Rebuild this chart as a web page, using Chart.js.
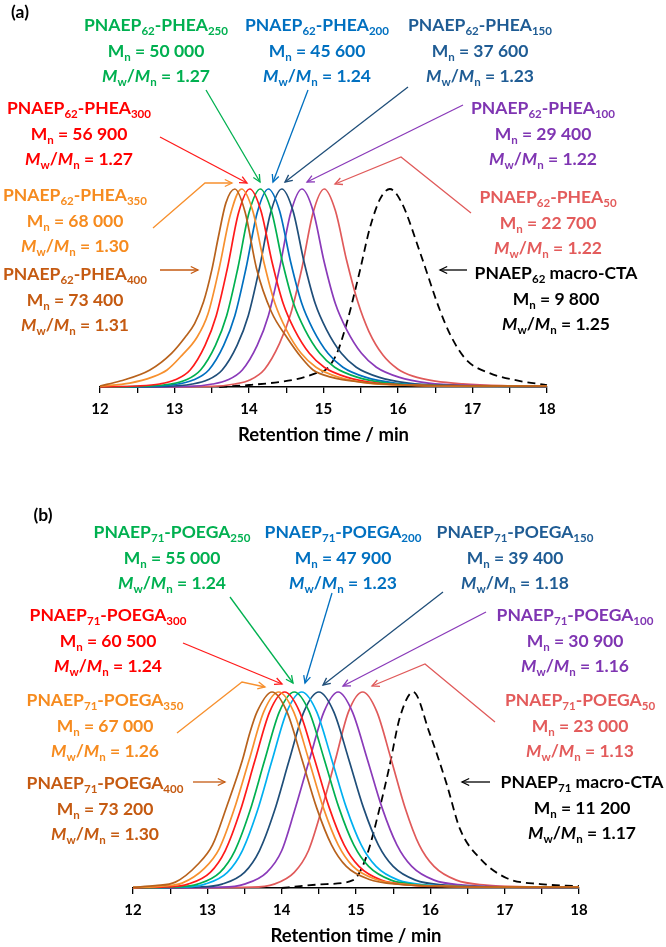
<!DOCTYPE html>
<html lang="en">
<head>
    <meta charset="UTF-8">
    <title>GPC traces</title>
    <script src="https://cdn.jsdelivr.net/npm/chart.js@4.4.0/dist/chart.umd.min.js"></script>
    <style>
        body {
            margin: 0;
            background: #fff;
        }
        #wrap {
            position: relative;
            width: 666px;
            height: 947px;
            overflow: hidden;
            font-family: Lato, 'Open Sans', sans-serif;
            font-weight: bold;
        }
        canvas {
            position: absolute;
            left: 0;
        }
        .lbl {
            position: absolute;
            transform: translateX(-50%);
            white-space: nowrap;
            text-align: center;
            font-size: 17.5px;
            line-height: 23.5px;
        }
        .lbl .s {
            font-size: 0.66em;
            position: relative;
            top: 0.35em;
        }
    </style>
</head>
<body>
<div id="wrap">
    <canvas id="chartA" width="666" height="470" style="top:0"></canvas>
    <canvas id="chartB" width="666" height="477" style="top:470px"></canvas>
</div>

<script>
    // ---- panel (a): PNAEP62-PHEA, [retention time, normalised RI] ----
    const a400 = [[12,0.005],[12.27,0.03],[12.67,0.086],[12.96,0.17],[13.14,0.25],[13.27,0.32],[13.39,0.43],[13.5,0.59],[13.59,0.76],[13.69,0.93],[13.81,1],[13.95,0.88],[14.1,0.6],[14.3,0.38],[14.51,0.25],[14.7,0.15],[14.86,0.086],[15.1,0.05],[15.5,0.025],[16,0.012],[17,0.006],[18,0.004]];
    const a350 = [[12,0.003],[12.4,0.02],[12.7,0.05],[12.9,0.086],[13.1,0.16],[13.3,0.25],[13.45,0.37],[13.6,0.6],[13.75,0.87],[13.9,1],[14.05,0.89],[14.2,0.63],[14.35,0.42],[14.5,0.29],[14.7,0.17],[14.9,0.1],[15.2,0.05],[15.6,0.02],[16.2,0.008],[17,0.005],[18,0.004]];
    const a300 = [[12,0.001],[12.5,0.005],[12.8,0.015],[13.0,0.035],[13.21,0.086],[13.41,0.21],[13.56,0.36],[13.71,0.6],[13.86,0.88],[14.01,1],[14.16,0.89],[14.31,0.63],[14.46,0.42],[14.61,0.29],[14.81,0.17],[15.01,0.1],[15.31,0.05],[15.71,0.02],[16.3,0.008],[17,0.005],[18,0.003]];
    const a250 = [[12,0],[12.6,0.004],[12.95,0.015],[13.15,0.035],[13.35,0.086],[13.55,0.21],[13.7,0.36],[13.85,0.6],[14.0,0.88],[14.15,1],[14.3,0.89],[14.45,0.63],[14.6,0.42],[14.75,0.29],[14.95,0.17],[15.15,0.1],[15.45,0.05],[15.85,0.02],[16.4,0.008],[17,0.005],[18,0.003]];
    const a200 = [[12,0],[12.7,0.003],[13.05,0.015],[13.25,0.035],[13.46,0.086],[13.66,0.21],[13.81,0.36],[13.96,0.6],[14.11,0.88],[14.26,1],[14.41,0.89],[14.56,0.63],[14.71,0.42],[14.86,0.29],[15.06,0.17],[15.26,0.1],[15.56,0.05],[15.96,0.02],[16.5,0.008],[17.2,0.004],[18,0.003]];
    const a150 = [[12,0],[12.9,0.003],[13.24,0.015],[13.44,0.035],[13.64,0.086],[13.84,0.21],[13.99,0.36],[14.14,0.6],[14.29,0.88],[14.44,1],[14.59,0.89],[14.74,0.63],[14.89,0.42],[15.04,0.29],[15.24,0.17],[15.44,0.1],[15.74,0.05],[16.14,0.02],[16.7,0.008],[17.3,0.004],[18,0.003]];
    const a100 = [[12,0],[13.2,0.003],[13.51,0.015],[13.71,0.035],[13.91,0.086],[14.11,0.21],[14.26,0.36],[14.41,0.6],[14.56,0.88],[14.71,1],[14.86,0.89],[15.01,0.63],[15.16,0.42],[15.31,0.29],[15.51,0.17],[15.71,0.1],[16.01,0.05],[16.41,0.02],[17,0.008],[18,0.003]];
    const a50  = [[12,0],[13.5,0.003],[13.81,0.015],[14.01,0.035],[14.21,0.09],[14.41,0.22],[14.56,0.37],[14.71,0.6],[14.86,0.88],[15.01,1],[15.16,0.89],[15.31,0.64],[15.46,0.43],[15.61,0.28],[15.8,0.16],[16.0,0.09],[16.2,0.055],[16.5,0.03],[16.87,0.016],[17.4,0.007],[18,0.004]];
    const aCTA = [[13.6,0],[14.0,0.01],[14.4,0.025],[14.7,0.045],[14.9,0.07],[15.04,0.09],[15.18,0.17],[15.31,0.32],[15.49,0.59],[15.62,0.8],[15.76,0.95],[15.89,1],[16.05,0.93],[16.3,0.675],[16.56,0.39],[16.72,0.25],[16.92,0.136],[17.23,0.07],[17.64,0.03],[18,0.01]];

    // ---- panel (b): PNAEP71-POEGA ----
    const b400 = [[12,0.004],[12.3,0.012],[12.57,0.03],[12.87,0.12],[13.07,0.22],[13.26,0.415],[13.47,0.65],[13.57,0.79],[13.67,0.9],[13.87,1],[14.07,0.9],[14.27,0.66],[14.47,0.41],[14.67,0.22],[14.87,0.11],[15.17,0.045],[15.6,0.018],[16.2,0.008],[17,0.005],[18,0.004]];
    const b350 = [[12,0.002],[12.4,0.01],[12.66,0.025],[12.96,0.1],[13.16,0.2],[13.36,0.4],[13.56,0.65],[13.76,0.9],[13.96,1],[14.16,0.9],[14.36,0.66],[14.56,0.41],[14.76,0.22],[14.96,0.11],[15.26,0.045],[15.7,0.017],[16.3,0.008],[17,0.005],[18,0.004]];
    const b300 = [[12,0.001],[12.44,0.005],[12.74,0.02],[13.04,0.08],[13.24,0.19],[13.44,0.39],[13.64,0.65],[13.84,0.9],[14.04,1],[14.24,0.9],[14.44,0.66],[14.64,0.41],[14.84,0.22],[15.04,0.11],[15.34,0.04],[15.74,0.015],[16.3,0.007],[17,0.004],[18,0.003]];
    const b250 = [[12,0],[12.57,0.005],[12.87,0.02],[13.17,0.08],[13.37,0.19],[13.57,0.39],[13.77,0.65],[13.97,0.9],[14.17,1],[14.37,0.9],[14.57,0.66],[14.77,0.41],[14.97,0.22],[15.17,0.11],[15.47,0.04],[15.87,0.015],[16.5,0.006],[17.2,0.004],[18,0.003]];
    const b200 = [[12,0],[12.67,0.005],[12.97,0.02],[13.27,0.08],[13.47,0.19],[13.67,0.39],[13.87,0.65],[14.07,0.9],[14.27,1],[14.47,0.9],[14.67,0.66],[14.87,0.41],[15.07,0.22],[15.27,0.11],[15.57,0.04],[15.97,0.015],[16.6,0.006],[17.3,0.004],[18,0.003]];
    const b150 = [[12,0],[12.9,0.005],[13.2,0.02],[13.5,0.08],[13.7,0.19],[13.9,0.39],[14.1,0.65],[14.3,0.9],[14.5,1],[14.7,0.9],[14.9,0.66],[15.1,0.41],[15.3,0.22],[15.5,0.11],[15.8,0.04],[16.2,0.015],[16.8,0.006],[17.5,0.004],[18,0.003]];
    const b100 = [[12,0],[13.2,0.004],[13.5,0.02],[13.8,0.08],[14.0,0.19],[14.17,0.39],[14.37,0.65],[14.57,0.9],[14.76,1],[14.95,0.9],[15.15,0.66],[15.35,0.41],[15.55,0.22],[15.75,0.11],[16.05,0.04],[16.45,0.015],[17,0.006],[18,0.003]];
    const b50  = [[12,0],[13.6,0.004],[13.9,0.02],[14.17,0.08],[14.36,0.19],[14.53,0.39],[14.72,0.65],[14.9,0.9],[15.09,1],[15.28,0.9],[15.47,0.66],[15.66,0.41],[15.85,0.22],[16.05,0.11],[16.35,0.04],[16.75,0.015],[17.3,0.006],[18,0.003]];
    const bCTA = [[14.0,0],[14.25,0.01],[14.6,0.02],[14.96,0.04],[15.14,0.16],[15.32,0.41],[15.45,0.62],[15.59,0.87],[15.77,1],[15.99,0.79],[16.22,0.53],[16.4,0.3],[16.67,0.15],[17.03,0.05],[17.48,0.02],[18,0.01]];

    // label values
    const dpLabels = ['400', '350', '300', '250', '200', '150', '100', '50'];
    const mnA  = ['73 400', '68 000', '56 900', '50 000', '45 600', '37 600', '29 400', '22 700'];
    const pdiA = ['1.31', '1.30', '1.27', '1.27', '1.24', '1.23', '1.22', '1.22'];
    const mnB  = ['73 200', '67 000', '60 500', '55 000', '47 900', '39 400', '30 900', '23 000'];
    const pdiB = ['1.30', '1.26', '1.24', '1.24', '1.23', '1.18', '1.16', '1.13'];
    const ctaA = ['62', '9 800', '1.25'];
    const ctaB = ['71', '11 200', '1.17'];

    const textColors = ['#C55A11', '#F68B1F', '#FF0000', '#00B050', '#0070C0', '#1F5C94', '#7F35B2', '#E35B5B'];
    const curveColorsA = ['#B8621C', '#F7902E', '#FF1A1A', '#00B050', '#0070C0', '#1F4E79', '#8A3AB9', '#E05A5A'];
    const curveColorsB = ['#B8621C', '#F7902E', '#FF1A1A', '#00B050', '#00B0F0', '#1F4E79', '#8A3AB9', '#E05A5A'];

    const sub = s => '<span class="s">' + s + '</span>';

    // arrows are drawn in page pixels, head at the last point
    const arrowPlugin = {
        id: 'arrows',
        afterDraw(chart, args, opts) {
            const ctx = chart.ctx;
            ctx.save();
            ctx.lineWidth = 1.3;
            opts.list.forEach(a => {
                const pts = a.pts.map(p => [p[0], p[1] - opts.top]);
                ctx.strokeStyle = a.color;
                ctx.beginPath();
                ctx.moveTo(pts[0][0], pts[0][1]);
                pts.slice(1).forEach(p => ctx.lineTo(p[0], p[1]));
                ctx.stroke();
                const [x1, y1] = pts[pts.length - 2];
                const [x2, y2] = pts[pts.length - 1];
                const ang = Math.atan2(y2 - y1, x2 - x1);
                const L = 8;
                ctx.beginPath();
                ctx.moveTo(x2 - L * Math.cos(ang - 0.45), y2 - L * Math.sin(ang - 0.45));
                ctx.lineTo(x2, y2);
                ctx.lineTo(x2 - L * Math.cos(ang + 0.45), y2 - L * Math.sin(ang + 0.45));
                ctx.stroke();
            });
            ctx.restore();
        }
    };

    function makeChart(id, series, colors, cta, pad, top, arrows) {
        const datasets = series.map((s, i) => ({
            data: s.map(p => ({x: p[0], y: p[1]})),
            borderColor: colors[i],
            borderWidth: 1.7,
            pointRadius: 0,
            cubicInterpolationMode: 'monotone',
            fill: false,
            clip: false
        }));
        datasets.push({
            data: cta.map(p => ({x: p[0], y: p[1]})),
            borderColor: '#000',
            borderWidth: 1.8,
            borderDash: [8, 5],
            pointRadius: 0,
            cubicInterpolationMode: 'monotone',
            fill: false,
            clip: false
        });
        new Chart(document.getElementById(id), {
            type: 'line',
            data: {datasets: datasets},
            options: {
                responsive: false,
                animation: false,
                devicePixelRatio: 1,
                layout: {padding: pad},
                plugins: {
                    legend: {display: false},
                    tooltip: {enabled: false},
                    arrows: {list: arrows, top: top}
                },
                scales: {
                    x: {
                        type: 'linear',
                        min: 12,
                        max: 18,
                        ticks: {
                            stepSize: 0.5,
                            autoSkip: false,
                            maxRotation: 0,
                            padding: 7,
                            color: '#000',
                            font: {family: 'Lato', weight: 'bold', size: 15},
                            callback: v => Number.isInteger(v) ? String(v) : ''
                        },
                        grid: {drawOnChartArea: false, tickLength: 6, color: '#000', lineWidth: 1.3},
                        border: {color: '#000', width: 1.5},
                        title: {
                            display: true,
                            text: 'Retention time / min',
                            color: '#000',
                            padding: {top: 0, bottom: 0},
                            font: {family: 'Lato', weight: 'bold', size: 18.5, lineHeight: 1}
                        },
                        afterFit: s => { s.height = 57; }
                    },
                    y: {display: false, min: 0, max: 1}
                }
            },
            plugins: [arrowPlugin]
        });
    }

    const cA = curveColorsA, cB = curveColorsB, tc = textColors;

    makeChart('chartA', [a400, a350, a300, a250, a200, a150, a100, a50], cA, aCTA,
        {left: 100, right: 119, top: 189, bottom: 26}, 0, [
        {color: cA[3], pts: [[206, 90], [260, 182]]},
        {color: cA[4], pts: [[308, 90], [273, 182]]},
        {color: cA[5], pts: [[408, 87], [285, 182]]},
        {color: cA[6], pts: [[463, 105], [307, 182]]},
        {color: cA[2], pts: [[160, 137], [247, 183]]},
        {color: cA[1], pts: [[153, 228], [205, 183], [232, 183]]},
        {color: cA[7], pts: [[471, 213], [401, 157], [335, 184]]},
        {color: tc[0], pts: [[160, 270], [198, 270]]},
        {color: '#000', pts: [[467, 270], [440, 270]]}
    ]);

    makeChart('chartB', [b400, b350, b300, b250, b200, b150, b100, b50], cB, bCTA,
        {left: 133, right: 87, top: 222, bottom: 2}, 470, [
        {color: cB[3], pts: [[230, 597], [293, 683]]},
        {color: tc[4], pts: [[332, 593], [305, 683]]},
        {color: cB[5], pts: [[443, 592], [323, 685]]},
        {color: cB[6], pts: [[486, 612], [343, 686]]},
        {color: cB[2], pts: [[183, 643], [282, 684]]},
        {color: cB[1], pts: [[177, 733], [242, 682], [265, 687]]},
        {color: cB[7], pts: [[495, 722], [425, 664], [372, 686]]},
        {color: tc[0], pts: [[193, 782], [225, 782]]},
        {color: '#000', pts: [[490, 782], [462, 782]]}
    ]);

    // text blocks: centre x, centre of first line
    const wrap = document.getElementById('wrap');
    function addBlock(x, y, color, lines) {
        const d = document.createElement('div');
        d.className = 'lbl';
        d.style.left = x + 'px';
        d.style.top = (y - 12) + 'px';
        d.style.color = color;
        d.innerHTML = lines.join('<br>');
        wrap.appendChild(d);
    }
    function polymerBlocks(prefix, block, mn, pdi, spots) {
        spots.forEach((p, i) => {
            addBlock(p[0], p[1], tc[i], [
                'PNAEP' + sub(prefix) + '-' + block + sub(dpLabels[i]),
                'M' + sub('n') + ' = ' + mn[i],
                '<i>M</i>' + sub('w') + '/<i>M</i>' + sub('n') + ' = ' + pdi[i]
            ]);
        });
    }
    function ctaBlock(x, y, cta) {
        addBlock(x, y, '#000', [
            'PNAEP' + sub(cta[0]) + ' macro-CTA',
            'M' + sub('n') + ' = ' + cta[1],
            '<i>M</i>' + sub('w') + '/<i>M</i>' + sub('n') + ' = ' + cta[2]
        ]);
    }

    polymerBlocks('62', 'PHEA', mnA, pdiA,
        [[75, 274], [75, 195], [79, 108], [156, 25], [317, 25], [480, 25], [543, 108], [548, 197]]);
    ctaBlock(556, 273, ctaA);
    polymerBlocks('71', 'POEGA', mnB, pdiB,
        [[105, 783], [105, 700], [108, 615], [172, 532], [343, 532], [515, 532], [575, 615], [580, 700]]);
    ctaBlock(582, 782, ctaB);

    addBlock(20, 12, '#000', ['(a)']);
    addBlock(43, 515, '#000', ['(b)']);
</script>
</body>
</html>
